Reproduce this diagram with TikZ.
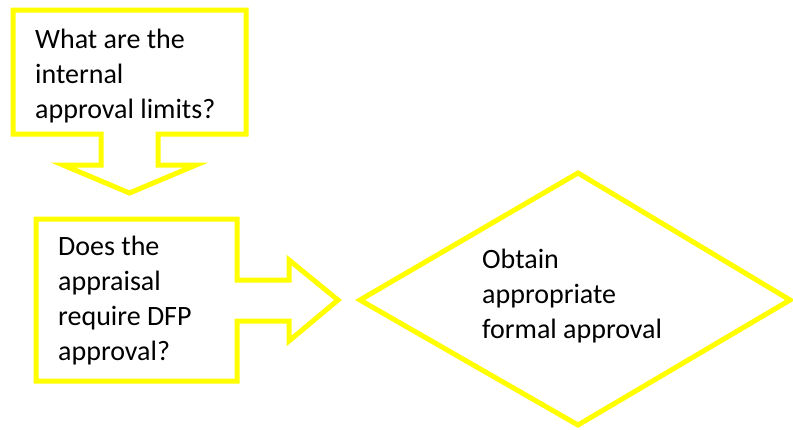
\documentclass[tikz,border=0pt]{standalone}
\usepackage{fontspec}
\setmainfont{Carlito}
\definecolor{callyellow}{RGB}{255,255,0}
\tikzset{
  shapeline/.style={draw=callyellow, line width=5pt, line join=miter, fill=white},
  txt/.style={anchor=base west, align=left, inner sep=0pt, font=\fontsize{28}{35}\selectfont}
}
\begin{document}
\begin{tikzpicture}[x=1pt,y=-1pt]
\useasboundingbox (0,0) rectangle (793,429);
% top callout with down arrow
\draw[shapeline] (13,10) -- (246,10) -- (246,134) -- (158,134) -- (158,165) -- (196,165)
  -- (129.5,193) -- (63,165) -- (101,165) -- (101,134) -- (13,134) -- cycle;
% second callout with right arrow
\draw[shapeline] (36,219) -- (237,219) -- (237,280) -- (289,280) -- (289,260) -- (338,300)
  -- (289,341) -- (289,321) -- (237,321) -- (237,381) -- (36,381) -- cycle;
% diamond
\draw[shapeline] (578,173) -- (790,300) -- (578,425) -- (360,300) -- cycle;
% text (anchor base = baseline of the last line)
\node[txt] (q1) at (35,118) {What are the\\internal\\approval limits?};
\node[txt] (q2) at (58,360) {Does the\\appraisal\\require DFP\\approval?};
\node[txt] (d1) at (482,338) {Obtain\\appropriate\\formal approval};
\end{tikzpicture}
\end{document}
